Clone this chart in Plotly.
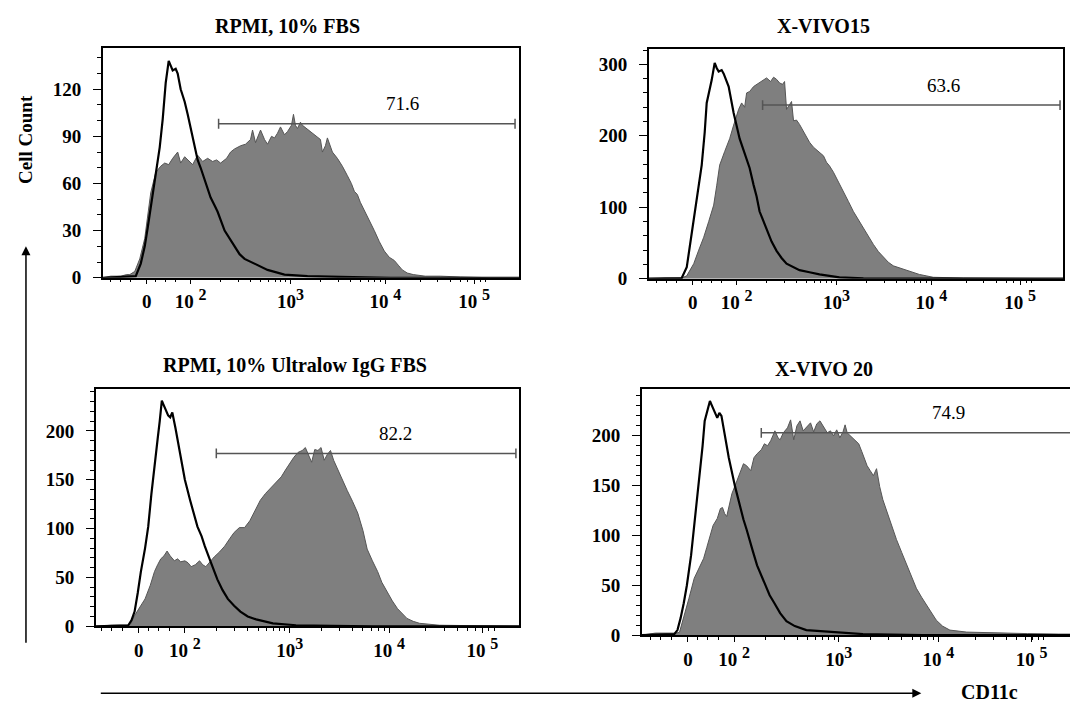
import math
import plotly.graph_objects as go

# ---------------- data (x in display units: 2 = 10^2, 3 = 10^3, ...) -------------
titles = ["RPMI, 10% FBS", "X-VIVO15", "RPMI, 10% Ultralow IgG FBS", "X-VIVO 20"]
gate_pct = ["71.6", "63.6", "82.2", "74.9"]
gate_start = [2.28, 2.26, 2.30, 2.26]
gate_level = [98, 243, 177, 203]

x_tickvals = [1.56, 2, 3, 3.95, 4.84]
x_ticktext = ["0",
              "10 <sup><span style='font-size:16px'>2</span></sup>",
              "10<sup><span style='font-size:16px'>3</span></sup>",
              "10 <sup><span style='font-size:16px'>4</span></sup>",
              "10 <sup><span style='font-size:16px'>5</span></sup>"]

# Panel 1: RPMI, 10% FBS
p1_fill_x = [1.12, 1.20, 1.30, 1.36, 1.39, 1.44, 1.49, 1.54, 1.60, 1.65, 1.70, 1.74, 1.78, 1.82, 1.87, 1.90, 1.94, 1.97, 2.02, 2.07, 2.12, 2.17, 2.22, 2.26, 2.30, 2.36, 2.40, 2.44, 2.50, 2.55, 2.60, 2.62, 2.65, 2.70, 2.74, 2.77, 2.81, 2.84, 2.87, 2.90, 2.94, 2.97, 3.01, 3.03, 3.05, 3.07, 3.10, 3.12, 3.16, 3.20, 3.25, 3.30, 3.32, 3.35, 3.37, 3.40, 3.42, 3.47, 3.52, 3.57, 3.61, 3.64, 3.67, 3.70, 3.74, 3.79, 3.84, 3.89, 3.94, 3.99, 4.04, 4.08, 4.12, 4.17, 4.23, 4.35, 4.50, 4.70, 5.00, 5.29]
p1_fill_y = [0, 1, 1, 2, 2, 4, 12, 25, 54, 67, 71, 73, 72, 76, 80, 73, 77, 75, 72, 78, 74, 76, 74, 75, 73, 76, 80, 82, 84, 85, 88, 94, 86, 94, 88, 85, 90, 89, 92, 96, 91, 93, 97, 104, 97, 95, 99, 97, 95, 93, 90, 88, 80, 84, 89, 84, 80, 76, 71, 65, 60, 55, 53, 48, 43, 37, 30, 23, 17, 13, 11, 8, 5, 3, 2, 1, 1, 0.5, 0, 0]
p1_open_x = [1.12, 1.30, 1.45, 1.50, 1.54, 1.57, 1.60, 1.64, 1.69, 1.72, 1.75, 1.78, 1.80, 1.82, 1.85, 1.87, 1.90, 1.94, 1.97, 2.02, 2.07, 2.10, 2.14, 2.17, 2.20, 2.24, 2.27, 2.34, 2.39, 2.44, 2.49, 2.54, 2.64, 2.77, 2.94, 3.17, 3.50, 4.00, 5.29]
p1_open_y = [0, 0.5, 1, 9, 20, 32, 45, 64, 83, 101, 124, 138, 135, 132, 133, 130, 120, 112, 104, 90, 75, 70, 62, 56, 51, 46, 42, 30, 25, 20, 15, 12, 9, 5, 2, 1, 0.5, 0, 0]

# Panel 2: X-VIVO15
p2_fill_x = [1.12, 1.30, 1.45, 1.50, 1.57, 1.62, 1.67, 1.72, 1.77, 1.80, 1.83, 1.88, 1.93, 1.97, 2.02, 2.05, 2.08, 2.10, 2.13, 2.17, 2.22, 2.26, 2.30, 2.34, 2.37, 2.40, 2.43, 2.46, 2.48, 2.50, 2.53, 2.55, 2.57, 2.60, 2.63, 2.68, 2.73, 2.77, 2.82, 2.87, 2.90, 2.93, 2.97, 3.02, 3.07, 3.12, 3.17, 3.22, 3.27, 3.32, 3.37, 3.42, 3.47, 3.52, 3.57, 3.63, 3.70, 3.77, 3.83, 3.90, 3.97, 4.27, 4.60, 5.27]
p2_fill_y = [0, 1, 1, 4, 21, 40, 58, 80, 103, 130, 159, 178, 196, 215, 237, 246, 240, 260, 262, 269, 274, 278, 281, 276, 282, 279, 274, 272, 276, 237, 244, 248, 221, 222, 216, 204, 191, 184, 178, 172, 163, 158, 149, 136, 122, 108, 94, 82, 71, 59, 48, 38, 30, 23, 18, 15, 12, 9, 6, 4, 2, 1, 0.5, 0]
p2_open_x = [1.12, 1.30, 1.45, 1.50, 1.55, 1.58, 1.60, 1.65, 1.68, 1.70, 1.75, 1.78, 1.80, 1.82, 1.85, 1.87, 1.92, 1.97, 2.03, 2.10, 2.13, 2.17, 2.20, 2.23, 2.27, 2.30, 2.35, 2.40, 2.45, 2.50, 2.57, 2.63, 2.73, 2.83, 3.03, 3.27, 3.60, 5.27]
p2_open_y = [0, 0.5, 1, 16, 62, 90, 108, 159, 205, 246, 278, 302, 295, 290, 292, 287, 269, 232, 196, 168, 155, 131, 115, 94, 80, 67, 52, 39, 29, 21, 16, 12, 9, 6, 2, 0.5, 0, 0]

# Panel 3: RPMI, 10% Ultralow IgG FBS
p3_fill_x = [1.15, 1.30, 1.45, 1.48, 1.52, 1.57, 1.62, 1.67, 1.71, 1.74, 1.77, 1.80, 1.83, 1.86, 1.90, 1.93, 1.96, 2.00, 2.03, 2.06, 2.10, 2.14, 2.17, 2.20, 2.24, 2.28, 2.33, 2.38, 2.43, 2.47, 2.52, 2.57, 2.62, 2.66, 2.69, 2.72, 2.77, 2.82, 2.87, 2.92, 2.96, 3.00, 3.04, 3.08, 3.12, 3.15, 3.18, 3.21, 3.24, 3.27, 3.30, 3.33, 3.36, 3.39, 3.42, 3.46, 3.49, 3.55, 3.60, 3.65, 3.70, 3.74, 3.79, 3.84, 3.88, 3.93, 3.98, 4.03, 4.08, 4.12, 4.18, 4.24, 4.43, 4.70, 5.19]
p3_fill_y = [0, 1, 1, 2, 11, 19, 28, 42, 56, 63, 69, 72, 77, 72, 67, 69, 66, 67, 65, 61, 63, 67, 63, 61, 66, 71, 76, 82, 90, 96, 101, 101, 108, 116, 122, 129, 136, 142, 148, 153, 160, 167, 173, 178, 180, 183, 175, 168, 181, 180, 183, 170, 176, 180, 170, 160, 153, 139, 128, 116, 98, 79, 67, 56, 45, 35, 26, 18, 12, 8, 5, 3, 1, 0.5, 0]
p3_open_x = [1.15, 1.30, 1.46, 1.49, 1.52, 1.55, 1.58, 1.62, 1.65, 1.68, 1.71, 1.74, 1.76, 1.78, 1.80, 1.82, 1.84, 1.86, 1.88, 1.91, 1.96, 2.00, 2.05, 2.12, 2.16, 2.19, 2.25, 2.31, 2.36, 2.41, 2.47, 2.53, 2.60, 2.68, 2.84, 3.06, 3.40, 3.80, 5.19]
p3_open_y = [0, 0.5, 1, 6, 15, 34, 56, 80, 102, 135, 167, 192, 210, 231, 226, 221, 216, 214, 219, 203, 173, 150, 129, 102, 92, 82, 65, 48, 37, 28, 21, 15, 10, 7, 3, 1, 0.5, 0, 0]

# Panel 4: X-VIVO 20
p4_fill_x = [1.12, 1.25, 1.35, 1.45, 1.48, 1.52, 1.57, 1.62, 1.67, 1.71, 1.74, 1.77, 1.80, 1.84, 1.87, 1.89, 1.91, 1.93, 1.96, 1.98, 2.01, 2.04, 2.06, 2.09, 2.12, 2.16, 2.19, 2.22, 2.26, 2.29, 2.32, 2.35, 2.37, 2.39, 2.42, 2.44, 2.47, 2.51, 2.54, 2.57, 2.60, 2.63, 2.66, 2.70, 2.73, 2.76, 2.79, 2.82, 2.85, 2.89, 2.92, 2.95, 2.98, 3.01, 3.04, 3.06, 3.08, 3.11, 3.15, 3.19, 3.22, 3.24, 3.27, 3.30, 3.33, 3.36, 3.39, 3.42, 3.46, 3.50, 3.55, 3.60, 3.65, 3.70, 3.74, 3.79, 3.84, 3.89, 3.93, 3.99, 4.06, 4.22, 4.51, 4.80, 5.10, 5.40]
p4_fill_y = [0, 2, 2, 2, 3, 17, 37, 57, 68, 77, 88, 99, 110, 117, 127, 128, 122, 119, 132, 142, 150, 158, 165, 172, 170, 165, 178, 182, 186, 192, 190, 195, 200, 205, 198, 196, 203, 208, 216, 196, 210, 215, 205, 210, 213, 204, 212, 215, 210, 203, 205, 200, 206, 198, 204, 211, 203, 200, 196, 192, 184, 178, 170, 165, 160, 167, 149, 136, 123, 110, 96, 83, 70, 58, 47, 38, 30, 22, 15, 9, 5, 3, 2, 1.5, 1, 1]
p4_open_x = [1.12, 1.30, 1.43, 1.46, 1.49, 1.52, 1.55, 1.59, 1.62, 1.65, 1.68, 1.70, 1.72, 1.75, 1.77, 1.79, 1.81, 1.84, 1.86, 1.88, 1.90, 1.95, 2.01, 2.05, 2.09, 2.12, 2.15, 2.18, 2.22, 2.26, 2.30, 2.34, 2.38, 2.44, 2.50, 2.58, 2.69, 2.92, 3.23, 3.50, 3.80, 5.40]
p4_open_y = [0, 0.5, 1, 5, 17, 32, 50, 80, 109, 138, 165, 190, 215, 228, 235, 230, 225, 218, 223, 220, 208, 178, 149, 132, 116, 106, 96, 84, 70, 60, 50, 40, 33, 22, 14, 9, 5, 3, 1, 0.5, 0, 0]

fills_x = [p1_fill_x, p2_fill_x, p3_fill_x, p4_fill_x]
fills_y = [p1_fill_y, p2_fill_y, p3_fill_y, p4_fill_y]
opens_x = [p1_open_x, p2_open_x, p3_open_x, p4_open_x]
opens_y = [p1_open_y, p2_open_y, p3_open_y, p4_open_y]

# ---------------- layout geometry ----------------
W, H = 1078, 707
# frames in pixels: left, right, top, bottom
frames = [(95, 512, 41, 274), (642, 1057, 42, 275), (88, 512, 387, 628), (635, 1078, 387, 637)]
title_pos = [(280, 18), (817, 18), (288, 363), (818, 367)]
x_ranges = [[1.12, 5.29], [1.12, 5.27], [1.15, 5.19], [1.12, 5.34]]
y_ranges = [[0, 146], [0, 321], [0, 243], [0, 247]]
y_dtick = [30, 100, 50, 50]
y_minor = [10, 20, 10, 10]
gate_end = [5.25, 5.24, 5.16, 5.60]
label_x = [4.12, 4.07, 4.01, 4.05]

serif = "Liberation Serif, Times New Roman, serif"

minor_x = [1.2, 1.3, 1.4, 1.65, 1.75, 1.85]
for dec in [2, 3, 4, 5]:
    for k in range(2, 10):
        minor_x.append(dec + math.log10(k))

fig = go.Figure()
layout = dict(width=W, height=H, margin=dict(l=0, r=0, t=0, b=0),
              paper_bgcolor="white", plot_bgcolor="white", showlegend=False)

shapes = []
annotations = []
for i in range(4):
    n = "" if i == 0 else str(i + 1)
    l, r, t, b = frames[i]
    xa = dict(domain=[l / W, r / W], range=x_ranges[i], anchor="y" + n,
              showline=True, linecolor="black", linewidth=1.5, mirror=True,
              ticks="outside", ticklen=5, tickwidth=1.3, tickcolor="black",
              tickmode="array", tickvals=x_tickvals, ticktext=x_ticktext,
              tickfont=dict(family=serif, size=19, color="black", weight="bold"),
              ticklabelstandoff=1,
              showgrid=False, zeroline=False,
              minor=dict(tickmode="array", tickvals=minor_x, ticklen=3, tickwidth=1,
                         tickcolor="black", ticks="outside", showgrid=False))
    ya = dict(domain=[1 - b / H, 1 - t / H], range=y_ranges[i], anchor="x" + n,
              showline=True, linecolor="black", linewidth=1.5, mirror=True,
              ticks="outside", ticklen=8, tickwidth=1.3, tickcolor="black",
              dtick=y_dtick[i], tick0=0,
              tickfont=dict(family=serif, size=19, color="black", weight="bold"),
              ticklabelstandoff=8,
              showgrid=False, zeroline=False,
              minor=dict(dtick=y_minor[i], tick0=0, ticklen=4, tickwidth=1,
                         tickcolor="black", ticks="outside", showgrid=False))
    layout["xaxis" + n] = xa
    layout["yaxis" + n] = ya

    fig.add_trace(go.Scatter(x=fills_x[i], y=fills_y[i], mode="lines", fill="tozeroy",
                             fillcolor="#7f7f7f", line=dict(color="#555555", width=1),
                             xaxis="x" + n, yaxis="y" + n, hoverinfo="skip"))
    fig.add_trace(go.Scatter(x=opens_x[i], y=opens_y[i], mode="lines",
                             line=dict(color="black", width=2.2),
                             xaxis="x" + n, yaxis="y" + n, hoverinfo="skip"))

    # gate marker
    tick_h = (y_ranges[i][1] - y_ranges[i][0]) * 5 / (b - t)
    gy = gate_level[i]
    shapes.append(dict(type="line", xref="x" + n, yref="y" + n, x0=gate_start[i], x1=gate_end[i],
                       y0=gy, y1=gy, line=dict(color="#555555", width=1.5)))
    for gx in [gate_start[i], gate_end[i]]:
        shapes.append(dict(type="line", xref="x" + n, yref="y" + n, x0=gx, x1=gx,
                           y0=gy - tick_h, y1=gy + tick_h, line=dict(color="#555555", width=1.5)))
    annotations.append(dict(xref="x" + n, yref="y" + n, x=label_x[i],
                            y=gy, yshift=20, text=gate_pct[i], showarrow=False,
                            xanchor="center", yanchor="middle",
                            font=dict(family=serif, size=19, color="black")))

    # panel title
    tx, ty = title_pos[i]
    annotations.append(dict(xref="paper", yref="paper", x=tx / W, y=1 - ty / H,
                            text=titles[i], showarrow=False,
                            font=dict(family=serif, size=20, color="black", weight="bold"),
                            xanchor="center", yanchor="middle"))

# axis labels and arrows
annotations.append(dict(xref="paper", yref="paper", x=18 / W, y=1 - 133 / H, text="Cell Count",
                        textangle=-90, showarrow=False, xanchor="center", yanchor="middle",
                        font=dict(family=serif, size=19, color="black", weight="bold")))
annotations.append(dict(xref="paper", yref="paper", x=18 / W, y=1 - 242 / H, ax=0, ay=398,
                        axref="pixel", ayref="pixel", text="", showarrow=True,
                        arrowhead=2, arrowsize=1.2, arrowwidth=1.5, arrowcolor="black"))
annotations.append(dict(xref="paper", yref="paper", x=915 / W, y=1 - 696 / H, ax=-822, ay=0,
                        axref="pixel", ayref="pixel", text="", showarrow=True,
                        arrowhead=2, arrowsize=1.2, arrowwidth=1.5, arrowcolor="black"))
annotations.append(dict(xref="paper", yref="paper", x=983 / W, y=1 - 695 / H, text="CD11c",
                        showarrow=False, xanchor="center", yanchor="middle",
                        font=dict(family=serif, size=20, color="black", weight="bold")))

layout["shapes"] = shapes
layout["annotations"] = annotations
fig.update_layout(**layout)
fig.write_html("out.html")
